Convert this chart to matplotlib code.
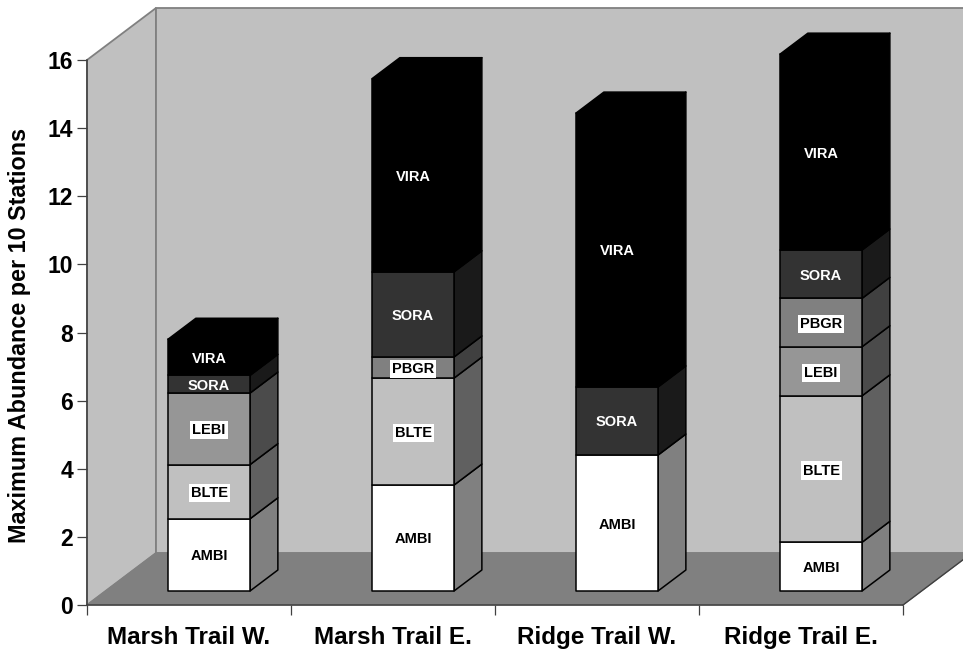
import matplotlib
matplotlib.use("Agg")
import matplotlib.pyplot as plt
import numpy as np

plt.rcParams["font.family"] = ["Liberation Sans", "DejaVu Sans"]

# Data
sites = ["Marsh Trail W.", "Marsh Trail E.", "Ridge Trail W.", "Ridge Trail E."]
species = ["AMBI", "BLTE", "LEBI", "PBGR", "SORA", "VIRA"]
ambi = [2.12, 3.11, 3.99, 1.43]
blte = [1.59, 3.14, 0.0, 4.30]
lebi = [2.10, 0.0, 0.0, 1.44]
pbgr = [0.0, 0.62, 0.0, 1.42]
sora = [0.52, 2.50, 2.00, 1.42]
vira = [1.06, 5.67, 8.04, 5.75]
series = [ambi, blte, lebi, pbgr, sora, vira]
y_ticks = [0, 2, 4, 6, 8, 10, 12, 14, 16]

# Figure settings
front_clr = ["#ffffff", "#c0c0c0", "#969696", "#808080", "#333333", "#000000"]
side_clr = ["#808080", "#606060", "#4b4b4b", "#404040", "#1a1a1a", "#000000"]
text_clr = ["black", "black", "black", "black", "white", "white"]
boxed = [False, True, True, True, False, False]

W, H = 963, 654
x0, x1, y0, y1 = 87, 903, 605, 60
depth_x = 69 / 204.0  # chart depth in category units
depth_y = 52 / 34.06  # chart depth in value units
bar_width = 0.402
bar_front = 0.27
bar_back = 0.673

fig = plt.figure(figsize=(W / 100, H / 100), dpi=100)
ax = fig.add_axes([x0 / W, 1 - y0 / H, (x1 - x0) / W, (y0 - y1) / H])
ax.set_xlim(0, 4)
ax.set_ylim(0, 16)
ax.patch.set_visible(False)


def proj(x, y, d):
    return x + d * depth_x, y + d * depth_y


def face(points, **kwargs):
    xs, ys = zip(*[proj(*p) for p in points])
    ax.fill(xs, ys, clip_on=False, **kwargs)


# Walls and floor
wall = dict(facecolor="#c0c0c0", edgecolor="#808080", linewidth=1.3, zorder=1)
face([(0, 0, 0), (0, 0, 1), (0, 16, 1), (0, 16, 0)], **wall)
face([(0, 0, 1), (4.2, 0, 1), (4.2, 16, 1), (0, 16, 1)], **wall)
face([(0, 0, 0), (4, 0, 0), (4, 0, 1), (0, 0, 1)],
     facecolor="#808080", edgecolor="#808080", linewidth=0.8, zorder=2)
xs, ys = zip(proj(4, 0, 0), proj(4, 0, 1))
ax.plot(xs, ys, color="#404040", linewidth=1, clip_on=False, zorder=2)

# Stacked bars
for i in range(len(sites)):
    left = i + 0.507 - bar_width / 2
    right = left + bar_width
    bottom = 0.0
    for j, values in enumerate(series):
        v = values[i]
        if v == 0:
            continue
        top = bottom + v
        edge = dict(edgecolor="black", linewidth=1.1, joinstyle="round", zorder=3)
        face([(right, bottom, bar_front), (right, bottom, bar_back),
              (right, top, bar_back), (right, top, bar_front)],
             facecolor=side_clr[j], **edge)
        face([(left, bottom, bar_front), (right, bottom, bar_front),
              (right, top, bar_front), (left, top, bar_front)],
             facecolor=front_clr[j], **edge)
        if j == len(series) - 1:
            face([(left, top, bar_front), (right, top, bar_front),
                  (right, top, bar_back), (left, top, bar_back)],
                 facecolor=front_clr[j], **edge)
        tx, ty = proj((left + right) / 2, bottom + v / 2, bar_front)
        bbox = None
        if boxed[j]:
            bbox = dict(facecolor="white", edgecolor="none", pad=1.5)
        ax.text(tx, ty, species[j], color=text_clr[j], fontsize=10.5, fontweight="bold",
                ha="center", va="center_baseline", bbox=bbox, clip_on=False, zorder=4)
        bottom = top

# Axes
for side in ["top", "right"]:
    ax.spines[side].set_visible(False)
for side in ["left", "bottom"]:
    ax.spines[side].set_color("#404040")
    ax.spines[side].set_linewidth(1.1)
    ax.spines[side].set_zorder(5)

ax.set_yticks(y_ticks)
ax.tick_params(axis="y", length=7, width=0.9, color="#404040", pad=3, labelsize=16.5)
for label in ax.get_yticklabels():
    label.set_fontweight("bold")

ax.set_xticks(np.arange(5))
ax.set_xticklabels([])
ax.tick_params(axis="x", length=7, width=0.9, color="#404040")
for i, name in enumerate(sites):
    ax.text(i + 0.5, -0.96, name, fontsize=17.5, fontweight="bold", ha="center", va="center",
            clip_on=False)

fig.text(20 / W, 1 - 335 / H, "Maximum Abundance per 10 Stations", rotation=90,
         fontsize=16.8, fontweight="bold", ha="center", va="center")

fig.savefig("out.png", dpi=100)
